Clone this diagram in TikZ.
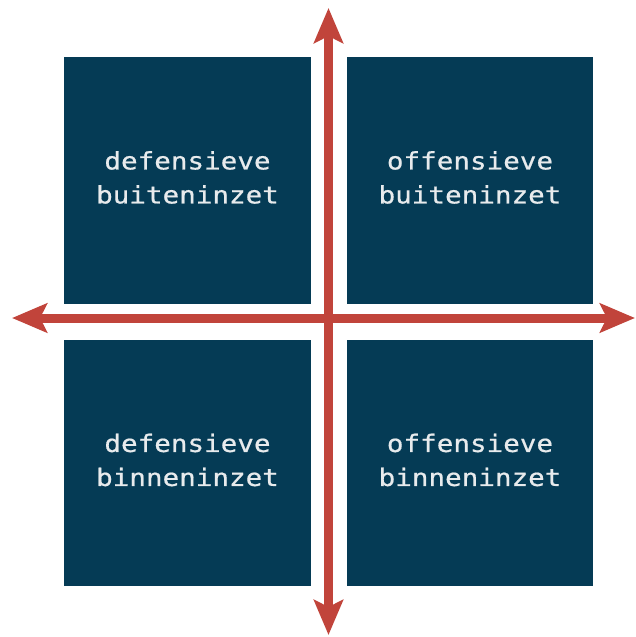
\documentclass[tikz,border=0pt]{standalone}
\usepackage{fontspec}
\usetikzlibrary{arrows.meta}
\newfontfamily\boxfont[FakeStretch=1.15, FakeBold=0.6]{DejaVu Sans Mono}
\definecolor{boxblue}{HTML}{053B55}
\definecolor{axisred}{HTML}{C1443B}
\definecolor{boxtext}{HTML}{E8EBED}
\tikzset{
  quad/.style={fill=boxblue, draw=none, minimum width=246.5pt, minimum height=246.5pt, inner sep=0pt, outer sep=0pt},
  quadlabel/.style={text=boxtext, align=center, font=\boxfont\fontsize{24pt}{34pt}\selectfont, inner sep=0pt},
  axis/.style={draw=axisred, line width=9pt, {Stealth[length=35pt, width=29pt, inset=7pt]}-{Stealth[length=35pt, width=29pt, inset=7pt]}}
}
\begin{document}
\begin{tikzpicture}[x=1pt, y=-1pt]
\useasboundingbox (0,0) rectangle (636,637);
\node[quad] (tl) at (187.5,180.5) {};
\node[quad] (tr) at (470,180.5) {};
\node[quad] (bl) at (187.5,463) {};
\node[quad] (br) at (470,463) {};
\node[quadlabel] (tlt) at (187.5,177.5) {defensieve\\buiteninzet};
\node[quadlabel] (trt) at (470,177.5) {offensieve\\buiteninzet};
\node[quadlabel] (blt) at (187.5,460) {defensieve\\binneninzet};
\node[quadlabel] (brt) at (470,460) {offensieve\\binneninzet};
\coordinate (L) at (12,318);
\coordinate (R) at (635,318);
\coordinate (T) at (328.5,8);
\coordinate (B) at (328.5,635);
\draw[axis] (L) -- (R);
\draw[axis] (T) -- (B);
\end{tikzpicture}
\end{document}
